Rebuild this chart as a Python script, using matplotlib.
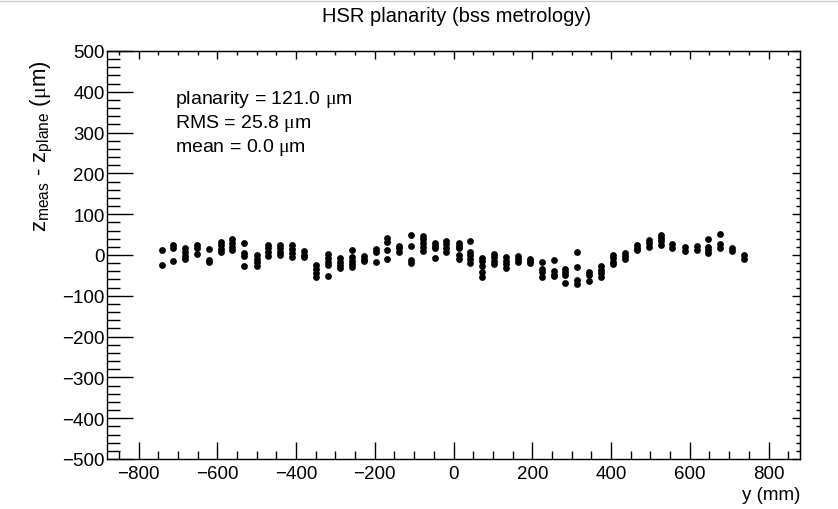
import matplotlib
matplotlib.use("Agg")
import matplotlib.pyplot as plt
from matplotlib.ticker import MultipleLocator, FuncFormatter
from matplotlib.lines import Line2D

plt.rcParams['font.family'] = ['Liberation Sans', 'DejaVu Sans']
plt.rcParams['mathtext.fontset'] = 'custom'
plt.rcParams['mathtext.rm'] = 'Liberation Sans'
plt.rcParams['mathtext.it'] = 'Liberation Serif'

# column positions along y (mm)
y_pos = [-741, -712, -682, -651, -621, -591, -562, -531, -500, -471,
         -440, -410, -380, -349, -320, -289, -259, -228, -198, -169,
         -138, -108, -78, -48, -18, 13, 43, 73, 104, 133,
         164, 194, 224, 254, 284, 314, 344, 375, 405, 436,
         466, 496, 527, 556, 587, 618, 647, 678, 708, 738]

# measured deviations (um) at each column
z_dev = [
    [12, -25], [25, 17, -14], [16, 7, -2, -11], [25, 16, 3], [14, -12, -16],
    [32, 24, 15, 7], [38, 29, 20, 12], [29, 6, -3, -28], [-1, -9, -18, -27], [25, 17, 7, -2],
    [25, 17, 7, 1], [25, 15, 5, -5], [9, 1, -5], [-25, -34, -44, -53], [2, -7, -16, -25, -51],
    [-8, -16, -25, -33], [13, -5, -14, -23, -30], [-2, -9, -15], [15, 7, -17], [41, 33, 12, -11],
    [23, 16, 7], [50, 21, -12, -20], [47, 39, 29, 19, 10], [29, 22, 16, -7], [34, 26, 17, 7],
    [29, 21, 16, 0, -9], [34, 8, 0, -11, -19], [-7, -15, -27, -41, -53], [3, -5, -15, -23], [-6, -14, -23, -33],
    [-3, -9, -16], [-9, -15, -20], [-16, -34, -42, -54], [-13, -40, -48, -52], [-34, -41, -50, -69],
    [8, -29, -61, -71], [-41, -49, -63], [-28, -36, -44, -53], [0, -8, -16, -22], [5, -3, -11],
    [25, 16, 12], [37, 29, 20], [50, 42, 34, 25], [27, 17], [19, 11],
    [21, 13], [39, 20, 12, 5], [51, 27, 17], [17, 11], [-1, -9],
]

stats_lines = [r"planarity = 121.0 $\mu$m", r"RMS = 25.8 $\mu$m", r"mean = 0.0 $\mu$m"]
title = "HSR planarity (bss metrology)"
x_title = "y (mm)"
y_title = r"z$_{\mathrm{meas}}$ - z$_{\mathrm{plane}}$ ($\mu$m)"

xs, zs = [], []
for yp, col in zip(y_pos, z_dev):
    for z in col:
        xs.append(yp)
        zs.append(z)

fig = plt.figure(figsize=(8.38, 5.10), dpi=100)
ax = fig.add_axes([107/838, 1-460/510, (800-107)/838, (460-52)/510])

ax.scatter(xs, zs, s=24, color='black', linewidths=0, zorder=3)

ax.set_xlim(-880, 880)
ax.set_ylim(-500, 500)
ax.xaxis.set_major_locator(MultipleLocator(200))
ax.xaxis.set_minor_locator(MultipleLocator(50))
ax.yaxis.set_major_locator(MultipleLocator(100))
ax.yaxis.set_minor_locator(MultipleLocator(20))

ax.tick_params(axis='x', which='major', direction='in', length=12, width=1, labelsize=13.5, pad=4, top=False)
ax.tick_params(axis='x', which='minor', direction='in', length=6, width=1, top=False)
ax.tick_params(axis='y', which='major', direction='in', length=19, width=1, labelsize=13.5, pad=1.5, right=False)
ax.tick_params(axis='y', which='minor', direction='in', length=9.5, width=1, right=False)
for s in ax.spines.values():
    s.set_linewidth(1)

# short opposite-side ticks (top / right)
sec_x = ax.secondary_xaxis('top')
sec_x.xaxis.set_major_locator(MultipleLocator(200))
sec_x.xaxis.set_minor_locator(MultipleLocator(50))
sec_x.tick_params(which='major', direction='in', length=6, width=1, labeltop=False)
sec_x.tick_params(which='minor', direction='in', length=3, width=1)
sec_y = ax.secondary_yaxis('right')
sec_y.yaxis.set_major_locator(MultipleLocator(100))
sec_y.yaxis.set_minor_locator(MultipleLocator(20))
sec_y.tick_params(which='major', direction='in', length=6, width=1, labelright=False)
sec_y.tick_params(which='minor', direction='in', length=3, width=1)

fmt = FuncFormatter(lambda v, p: f"{int(round(v))}".replace('-', '\u2212'))
ax.xaxis.set_major_formatter(fmt)
ax.yaxis.set_major_formatter(fmt)

ax.set_xlabel(x_title, fontsize=13.5, loc='right', labelpad=3)
ax.set_ylabel(y_title, fontsize=16, loc='top')
ax.yaxis.set_label_coords(-0.077, 0.98)

fig.text(457/838, 1-17/510, title, ha='center', va='center', fontsize=14.5)

for i, line in enumerate(stats_lines):
    fig.text(175/838, 1-(100 + 24*i)/510, line, ha='left', va='center', fontsize=14)

fig.add_artist(Line2D([0, 1], [1-2/510, 1-2/510], color='#cccccc', lw=1))

fig.savefig("out.png", dpi=100, facecolor='white')
